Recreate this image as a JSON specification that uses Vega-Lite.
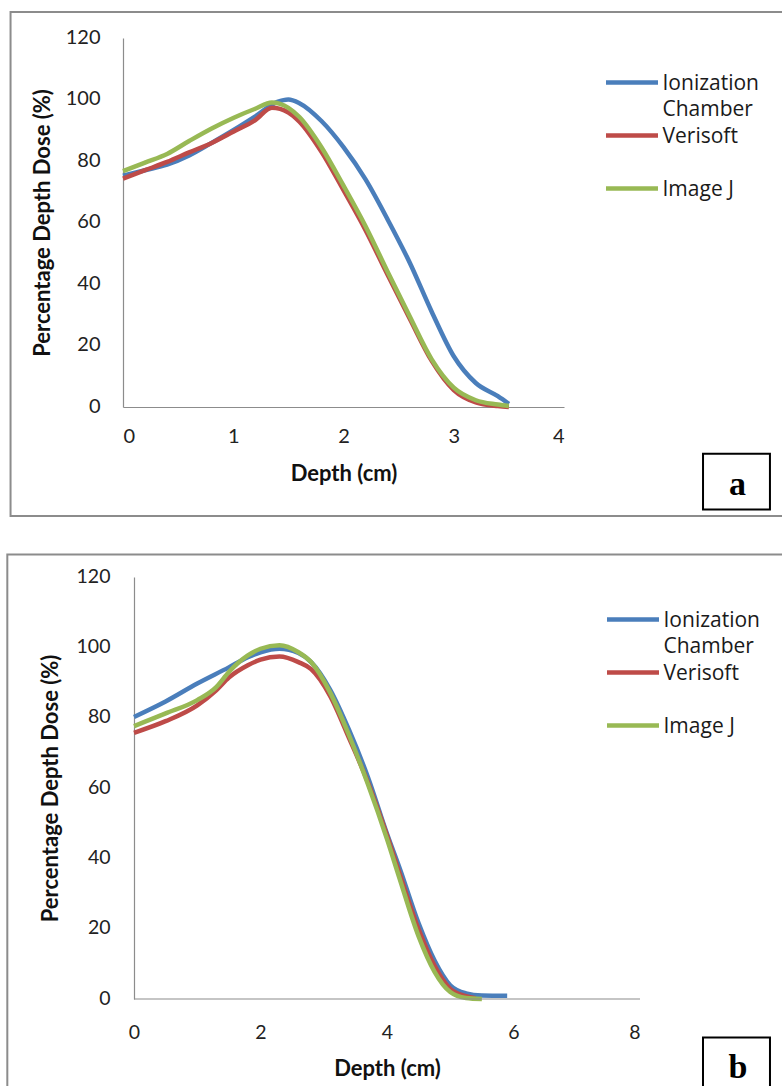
{
  "$schema": "https://vega.github.io/schema/vega-lite/v6.json",
  "background": "white",
  "padding": {"left": 6, "top": 10, "right": 0, "bottom": 0},
  "columns": 1,
  "spacing": 35,
  "config": {
    "font": "Lato",
    "view": {"stroke": null},
    "style": {"guide-label": {"lineHeight": 26, "dy": 7}},
    "axis": {"grid": false, "ticks": false, "tickSize": 0, "domainColor": "#8c8c8c", "domainWidth": 1.2, "labelFont": "Lato", "labelColor": "#222222", "titleFont": "Lato", "titleFontWeight": "bold", "titleColor": "#111111", "titleFontSize": 22},
    "axisY": {"labelBaseline": "alphabetic", "labelOffset": -2},
    "legend": {"orient": "none", "title": null, "symbolType": "M-2,0L2,0", "symbolSize": 676, "symbolStrokeWidth": 4.5, "symbolFillColor": "transparent", "labelFont": "Open Sans", "labelFontSize": 21, "labelColor": "#1a1a1a", "labelOffset": 15, "labelLimit": 300, "rowPadding": 0, "padding": 0, "labelBaseline": "alphabetic"}
  },
  "datasets": {
    "a": [
      {"series": "Ionization Chamber", "depth": 0, "pdd": 75.2},
      {"series": "Ionization Chamber", "depth": 0.2, "pdd": 77.0},
      {"series": "Ionization Chamber", "depth": 0.4, "pdd": 78.8},
      {"series": "Ionization Chamber", "depth": 0.6, "pdd": 81.8},
      {"series": "Ionization Chamber", "depth": 0.8, "pdd": 85.8},
      {"series": "Ionization Chamber", "depth": 1.0, "pdd": 90.0},
      {"series": "Ionization Chamber", "depth": 1.2, "pdd": 94.5},
      {"series": "Ionization Chamber", "depth": 1.4, "pdd": 99.2},
      {"series": "Ionization Chamber", "depth": 1.5, "pdd": 100.0},
      {"series": "Ionization Chamber", "depth": 1.6, "pdd": 98.8},
      {"series": "Ionization Chamber", "depth": 1.8, "pdd": 93.0},
      {"series": "Ionization Chamber", "depth": 2.0, "pdd": 84.5},
      {"series": "Ionization Chamber", "depth": 2.2, "pdd": 74.0},
      {"series": "Ionization Chamber", "depth": 2.4, "pdd": 61.0},
      {"series": "Ionization Chamber", "depth": 2.6, "pdd": 47.0},
      {"series": "Ionization Chamber", "depth": 2.8, "pdd": 31.0},
      {"series": "Ionization Chamber", "depth": 3.0, "pdd": 16.5},
      {"series": "Ionization Chamber", "depth": 3.2, "pdd": 7.8},
      {"series": "Ionization Chamber", "depth": 3.4, "pdd": 3.5},
      {"series": "Ionization Chamber", "depth": 3.5, "pdd": 1.0},
      {"series": "Verisoft", "depth": 0, "pdd": 74.3},
      {"series": "Verisoft", "depth": 0.2, "pdd": 77.0},
      {"series": "Verisoft", "depth": 0.4, "pdd": 79.7},
      {"series": "Verisoft", "depth": 0.6, "pdd": 82.8},
      {"series": "Verisoft", "depth": 0.8, "pdd": 85.8},
      {"series": "Verisoft", "depth": 1.0, "pdd": 89.5},
      {"series": "Verisoft", "depth": 1.2, "pdd": 93.3},
      {"series": "Verisoft", "depth": 1.35, "pdd": 97.3},
      {"series": "Verisoft", "depth": 1.5, "pdd": 95.8},
      {"series": "Verisoft", "depth": 1.6, "pdd": 92.8},
      {"series": "Verisoft", "depth": 1.8, "pdd": 83.0},
      {"series": "Verisoft", "depth": 2.0, "pdd": 70.5},
      {"series": "Verisoft", "depth": 2.2, "pdd": 57.5},
      {"series": "Verisoft", "depth": 2.4, "pdd": 43.0},
      {"series": "Verisoft", "depth": 2.6, "pdd": 28.8},
      {"series": "Verisoft", "depth": 2.8, "pdd": 15.0},
      {"series": "Verisoft", "depth": 3.0, "pdd": 5.5},
      {"series": "Verisoft", "depth": 3.2, "pdd": 1.5},
      {"series": "Verisoft", "depth": 3.4, "pdd": 0.3},
      {"series": "Verisoft", "depth": 3.5, "pdd": 0.0},
      {"series": "Image J", "depth": 0, "pdd": 76.7},
      {"series": "Image J", "depth": 0.2, "pdd": 79.5},
      {"series": "Image J", "depth": 0.4, "pdd": 82.3},
      {"series": "Image J", "depth": 0.6, "pdd": 86.5},
      {"series": "Image J", "depth": 0.8, "pdd": 90.5},
      {"series": "Image J", "depth": 1.0, "pdd": 94.0},
      {"series": "Image J", "depth": 1.2, "pdd": 97.0},
      {"series": "Image J", "depth": 1.35, "pdd": 99.0},
      {"series": "Image J", "depth": 1.5, "pdd": 97.3},
      {"series": "Image J", "depth": 1.6, "pdd": 94.3},
      {"series": "Image J", "depth": 1.8, "pdd": 84.5},
      {"series": "Image J", "depth": 2.0, "pdd": 72.0},
      {"series": "Image J", "depth": 2.2, "pdd": 58.8},
      {"series": "Image J", "depth": 2.4, "pdd": 44.0},
      {"series": "Image J", "depth": 2.6, "pdd": 29.5},
      {"series": "Image J", "depth": 2.8, "pdd": 15.5},
      {"series": "Image J", "depth": 3.0, "pdd": 6.3},
      {"series": "Image J", "depth": 3.2, "pdd": 2.2},
      {"series": "Image J", "depth": 3.4, "pdd": 0.8},
      {"series": "Image J", "depth": 3.5, "pdd": 0.3}
    ],
    "b": [
      {"series": "Ionization Chamber", "depth": 0, "pdd": 80.2},
      {"series": "Ionization Chamber", "depth": 0.5, "pdd": 84.6},
      {"series": "Ionization Chamber", "depth": 1.0, "pdd": 89.7},
      {"series": "Ionization Chamber", "depth": 1.5, "pdd": 94.3},
      {"series": "Ionization Chamber", "depth": 1.8, "pdd": 97.2},
      {"series": "Ionization Chamber", "depth": 2.0, "pdd": 98.6},
      {"series": "Ionization Chamber", "depth": 2.3, "pdd": 99.6},
      {"series": "Ionization Chamber", "depth": 2.6, "pdd": 98.4},
      {"series": "Ionization Chamber", "depth": 2.8, "pdd": 95.8},
      {"series": "Ionization Chamber", "depth": 3.1, "pdd": 88.0},
      {"series": "Ionization Chamber", "depth": 3.4, "pdd": 76.5},
      {"series": "Ionization Chamber", "depth": 3.7, "pdd": 63.0},
      {"series": "Ionization Chamber", "depth": 4.0, "pdd": 47.0},
      {"series": "Ionization Chamber", "depth": 4.2, "pdd": 37.2},
      {"series": "Ionization Chamber", "depth": 4.5, "pdd": 21.5},
      {"series": "Ionization Chamber", "depth": 4.75, "pdd": 11.0},
      {"series": "Ionization Chamber", "depth": 5.0, "pdd": 3.9},
      {"series": "Ionization Chamber", "depth": 5.25, "pdd": 1.6},
      {"series": "Ionization Chamber", "depth": 5.5, "pdd": 1.0},
      {"series": "Ionization Chamber", "depth": 5.9, "pdd": 0.9},
      {"series": "Verisoft", "depth": 0, "pdd": 75.7},
      {"series": "Verisoft", "depth": 0.5, "pdd": 79.0},
      {"series": "Verisoft", "depth": 1.0, "pdd": 83.5},
      {"series": "Verisoft", "depth": 1.3, "pdd": 87.8},
      {"series": "Verisoft", "depth": 1.5, "pdd": 91.4},
      {"series": "Verisoft", "depth": 1.8, "pdd": 94.9},
      {"series": "Verisoft", "depth": 2.0, "pdd": 96.5},
      {"series": "Verisoft", "depth": 2.3, "pdd": 97.4},
      {"series": "Verisoft", "depth": 2.6, "pdd": 95.8},
      {"series": "Verisoft", "depth": 2.8, "pdd": 93.8},
      {"series": "Verisoft", "depth": 3.1, "pdd": 86.2},
      {"series": "Verisoft", "depth": 3.4, "pdd": 74.2},
      {"series": "Verisoft", "depth": 3.7, "pdd": 61.5},
      {"series": "Verisoft", "depth": 4.0, "pdd": 46.5},
      {"series": "Verisoft", "depth": 4.2, "pdd": 35.6},
      {"series": "Verisoft", "depth": 4.5, "pdd": 19.8},
      {"series": "Verisoft", "depth": 4.75, "pdd": 9.5},
      {"series": "Verisoft", "depth": 5.0, "pdd": 2.9},
      {"series": "Verisoft", "depth": 5.25, "pdd": 0.8},
      {"series": "Verisoft", "depth": 5.4, "pdd": 0.2},
      {"series": "Image J", "depth": 0, "pdd": 77.6},
      {"series": "Image J", "depth": 0.5, "pdd": 81.2},
      {"series": "Image J", "depth": 1.0, "pdd": 85.0},
      {"series": "Image J", "depth": 1.3, "pdd": 88.7},
      {"series": "Image J", "depth": 1.5, "pdd": 93.0},
      {"series": "Image J", "depth": 1.8, "pdd": 97.7},
      {"series": "Image J", "depth": 2.0, "pdd": 99.6},
      {"series": "Image J", "depth": 2.3, "pdd": 100.6},
      {"series": "Image J", "depth": 2.6, "pdd": 98.6},
      {"series": "Image J", "depth": 2.8, "pdd": 95.8},
      {"series": "Image J", "depth": 3.1, "pdd": 87.2},
      {"series": "Image J", "depth": 3.4, "pdd": 75.0},
      {"series": "Image J", "depth": 3.7, "pdd": 61.0},
      {"series": "Image J", "depth": 4.0, "pdd": 45.5},
      {"series": "Image J", "depth": 4.2, "pdd": 34.2},
      {"series": "Image J", "depth": 4.5, "pdd": 17.8},
      {"series": "Image J", "depth": 4.75, "pdd": 7.8},
      {"series": "Image J", "depth": 5.0, "pdd": 2.0},
      {"series": "Image J", "depth": 5.25, "pdd": 0.3},
      {"series": "Image J", "depth": 5.5, "pdd": 0.0}
    ]
  },
  "resolve": {"scale": {"color": "independent"}},
  "concat": [
    {
      "width": 441,
      "height": 369,
      "layer": [
        {
          "data": {"name": "a"},
          "mark": {"type": "line", "interpolate": "monotone", "strokeWidth": 4.5},
          "encoding": {
            "x": {"field": "depth", "type": "quantitative", "scale": {"domain": [0, 4], "nice": false}, "axis": {"title": "Depth (cm)", "values": [0, 1, 2, 3, 4], "format": "d", "labelFontSize": 20, "labelPadding": 12, "titlePadding": 17}},
            "y": {"field": "pdd", "type": "quantitative", "scale": {"domain": [0, 120], "nice": false}, "axis": {"title": "Percentage Depth Dose (%)", "values": [0, 20, 40, 60, 80, 100, 120], "labelFontSize": 20, "labelPadding": 23, "titlePadding": 11}},
            "color": {
              "field": "series", "type": "nominal",
              "scale": {"domain": ["Ionization Chamber", "Verisoft", "Image J"], "range": ["#4a7ebb", "#be4b48", "#98b954"]},
              "legend": {"legendX": 493.5, "legendY": 29, "labelExpr": "datum.label == 'Ionization Chamber' ? ['Ionization', 'Chamber'] : [datum.label, '']"}
            }
          }
        },
        {
          "data": {"values": [{}]},
          "mark": {"type": "rect", "fill": "transparent", "stroke": "#8c8c8c", "strokeWidth": 2},
          "encoding": {
            "x": {"datum": -1.02, "type": "quantitative"},
            "x2": {"datum": 6.14},
            "y": {"datum": 128.46, "type": "quantitative"},
            "y2": {"datum": -35.45}
          }
        },
        {
          "data": {"values": [{}]},
          "mark": {"type": "rect", "fill": "white", "stroke": "#000000", "strokeWidth": 2},
          "encoding": {
            "x": {"datum": 5.261, "type": "quantitative"},
            "x2": {"datum": 5.868},
            "y": {"datum": -15.22, "type": "quantitative"},
            "y2": {"datum": -33.37}
          }
        },
        {
          "data": {"values": [{}]},
          "mark": {"type": "text", "font": "Liberation Serif", "fontWeight": "bold", "fontSize": 34, "align": "center", "baseline": "alphabetic", "color": "#000000"},
          "encoding": {
            "x": {"datum": 5.574, "type": "quantitative"},
            "y": {"datum": -28.62, "type": "quantitative"},
            "text": {"value": "a"}
          }
        }
      ]
    },
    {
      "width": 517,
      "height": 422,
      "layer": [
        {
          "data": {"name": "b"},
          "mark": {"type": "line", "interpolate": "monotone", "strokeWidth": 4.5},
          "encoding": {
            "x": {"field": "depth", "type": "quantitative", "scale": {"domain": [-0.1739, 8], "nice": false, "zero": false}, "axis": {"title": "Depth (cm)", "values": [0, 2, 4, 6, 8], "format": "d", "domain": false, "labelFontSize": 19.5, "labelPadding": 17, "titlePadding": 17, "titleX": 264}},
            "y": {"field": "pdd", "type": "quantitative", "scale": {"domain": [0, 120], "nice": false}, "axis": {"title": "Percentage Depth Dose (%)", "values": [0, 20, 40, 60, 80, 100, 120], "offset": -11, "labelFontSize": 19.5, "labelPadding": 24, "titlePadding": 14}},
            "color": {
              "field": "series", "type": "nominal",
              "scale": {"domain": ["Ionization Chamber", "Verisoft", "Image J"], "range": ["#4a7ebb", "#be4b48", "#98b954"]},
              "legend": {"legendX": 494.5, "legendY": 27, "labelExpr": "datum.label == 'Ionization Chamber' ? ['Ionization', 'Chamber'] : [datum.label, '']"}
            }
          }
        },
        {
          "data": {"values": [{}]},
          "mark": {"type": "rule", "color": "#8c8c8c", "strokeWidth": 1.2},
          "encoding": {
            "x": {"datum": 0, "type": "quantitative"},
            "x2": {"datum": 8},
            "y": {"datum": 0, "type": "quantitative"}
          }
        },
        {
          "data": {"values": [{}]},
          "mark": {"type": "rect", "fill": "transparent", "stroke": "#8c8c8c", "strokeWidth": 2},
          "encoding": {
            "x": {"datum": -2.003, "type": "quantitative"},
            "x2": {"datum": 10.53},
            "y": {"datum": 126.39, "type": "quantitative"},
            "y2": {"datum": -34.97}
          }
        },
        {
          "data": {"values": [{}]},
          "mark": {"type": "rect", "fill": "white", "stroke": "#000000", "strokeWidth": 2},
          "encoding": {
            "x": {"datum": 8.996, "type": "quantitative"},
            "x2": {"datum": 10.055},
            "y": {"datum": -10.95, "type": "quantitative"},
            "y2": {"datum": -34.97}
          }
        },
        {
          "data": {"values": [{}]},
          "mark": {"type": "text", "font": "Liberation Serif", "fontWeight": "bold", "fontSize": 34, "align": "center", "baseline": "alphabetic", "color": "#000000"},
          "encoding": {
            "x": {"datum": 9.549, "type": "quantitative"},
            "y": {"datum": -22.46, "type": "quantitative"},
            "text": {"value": "b"}
          }
        }
      ]
    }
  ]
}
